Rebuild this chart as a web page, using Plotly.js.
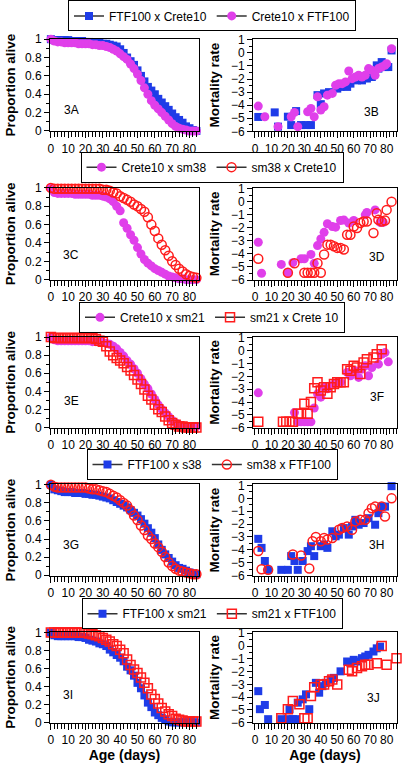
<!DOCTYPE html>
<html><head><meta charset="utf-8">
<script src="https://cdn.plot.ly/plotly-3.0.1.min.js"></script>
<style>html,body{margin:0;padding:0;background:#fff}#chart{width:404px;height:768px}</style>
</head><body><div id="chart"></div>
<script>
// ---------- DATA ----------
const survDays = [0,2,4,6,8,10,12,14,16,18,20,22,24,26,28,30,32,34,36,38,40,42,44,46,48,50,52,54,56,58,60,62,64,66,68,70,72,74,76,78,80,82,84];

// Proportion alive (3A,3C,3E,3G,3I)
const surv3A_FTF100xCrete10 = [1.00,0.99,0.99,0.99,0.99,0.99,0.98,0.98,0.98,0.98,0.97,0.97,0.96,0.96,0.96,0.95,0.95,0.94,0.93,0.92,0.89,0.85,0.80,0.76,0.72,0.66,0.60,0.54,0.48,0.44,0.40,0.35,0.31,0.27,0.23,0.19,0.15,0.12,0.09,0.05,0.03,0.01,0.00];
const surv3A_Crete10xFTF100 = [1.00,0.98,0.97,0.97,0.96,0.96,0.96,0.96,0.95,0.95,0.95,0.95,0.94,0.94,0.93,0.93,0.92,0.91,0.89,0.87,0.84,0.81,0.78,0.73,0.68,0.62,0.55,0.47,0.40,0.33,0.28,0.24,0.20,0.16,0.12,0.08,0.05,0.03,0.02,0.01,0.00,0.00,0.00];
const surv3C_Crete10xsm38 = [1.00,0.95,0.94,0.94,0.94,0.94,0.94,0.93,0.93,0.93,0.93,0.93,0.92,0.92,0.92,0.91,0.90,0.88,0.85,0.80,0.75,0.62,0.56,0.49,0.43,0.35,0.28,0.22,0.18,0.15,0.12,0.10,0.08,0.06,0.04,0.03,0.02,0.01,0.01,0.00,0.00,0.00,0.00];
const surv3C_sm38xCrete10 = [1.00,0.99,0.99,0.99,0.99,0.99,0.99,0.99,0.99,0.99,0.99,0.99,0.99,0.99,0.99,0.98,0.98,0.97,0.95,0.94,0.91,0.89,0.87,0.85,0.82,0.80,0.77,0.74,0.68,0.60,0.53,0.45,0.38,0.32,0.26,0.20,0.16,0.12,0.09,0.06,0.04,0.03,0.02];
const surv3E_Crete10xsm21 = [1.00,0.97,0.96,0.96,0.96,0.96,0.96,0.96,0.96,0.96,0.96,0.96,0.95,0.95,0.95,0.94,0.93,0.92,0.90,0.87,0.83,0.79,0.74,0.70,0.65,0.60,0.54,0.48,0.43,0.37,0.31,0.25,0.20,0.16,0.12,0.08,0.05,0.03,0.02,0.01,0.01,0.01,0.01];
const surv3E_sm21xCrete10 = [1.00,0.99,0.99,0.99,0.99,0.99,0.99,0.99,0.99,0.99,0.99,0.99,0.99,0.98,0.96,0.95,0.90,0.84,0.80,0.77,0.74,0.71,0.67,0.63,0.58,0.53,0.48,0.42,0.35,0.31,0.25,0.20,0.17,0.12,0.08,0.05,0.03,0.01,0.01,0.00,0.00,0.00,0.00];
const surv3G_FTF100xs38 = [1.00,0.95,0.94,0.93,0.92,0.92,0.92,0.91,0.91,0.91,0.90,0.90,0.89,0.89,0.88,0.87,0.86,0.85,0.83,0.81,0.79,0.77,0.75,0.72,0.69,0.66,0.62,0.57,0.52,0.47,0.41,0.34,0.28,0.23,0.19,0.15,0.11,0.08,0.07,0.05,0.03,0.02,0.01];
const surv3G_sm38xFTF100 = [1.00,0.98,0.97,0.97,0.97,0.97,0.97,0.97,0.97,0.97,0.97,0.96,0.95,0.95,0.94,0.93,0.92,0.90,0.88,0.86,0.83,0.80,0.77,0.72,0.66,0.61,0.55,0.50,0.44,0.40,0.35,0.31,0.26,0.20,0.14,0.10,0.07,0.05,0.04,0.03,0.02,0.01,0.01];
const surv3I_FTF100xsm21 = [1.00,0.97,0.96,0.96,0.96,0.96,0.96,0.96,0.95,0.95,0.94,0.92,0.91,0.90,0.88,0.87,0.85,0.81,0.78,0.75,0.72,0.68,0.62,0.58,0.52,0.44,0.38,0.30,0.22,0.17,0.11,0.08,0.05,0.03,0.01,0.00,0.00,0.00,0.00,0.00,0.00,0.00,0.00];
const surv3I_sm21xFTF100 = [1.00,1.00,1.00,1.00,1.00,1.00,1.00,1.00,1.00,1.00,1.00,0.99,0.98,0.97,0.96,0.94,0.92,0.90,0.87,0.85,0.81,0.77,0.70,0.64,0.59,0.55,0.50,0.44,0.38,0.31,0.26,0.21,0.16,0.12,0.09,0.07,0.04,0.03,0.02,0.01,0.01,0.01,0.01];

// Mortality rate (3B,3D,3F,3H,3J)
const mort3B_FTF100xCrete10_x = [2,12,14,20,22,25,28,31,34,38,40,42,45,50,52,56,58,62,65,68,71,74,75,77,79,81,83];
const mort3B_FTF100xCrete10_y = [-4.9,-4.55,-5.64,-4.88,-5.52,-4.45,-5.52,-5.52,-5.52,-3.23,-3.92,-3.1,-3.0,-2.73,-2.6,-2.6,-2.35,-2.1,-2.1,-1.96,-1.84,-0.95,-1.2,-0.7,-1.08,-1.08,0.19];
const mort3B_Crete10xFTF100_x = [2,6,14,22,24,26,32,34,36,38,40,42,44,47,49,51,53,55,57,59,61,63,65,67,69,71,73,75,77,79,80,83];
const mort3B_Crete10xFTF100_y = [-4.07,-4.88,-5.64,-4.88,-4.55,-5.64,-4.5,-4.25,-4.88,-3.36,-4.37,-4.12,-3.23,-3.1,-2.47,-2.35,-2.35,-2.22,-1.38,-1.97,-1.84,-1.71,-1.84,-1.71,-1.2,-1.33,-1.71,-1.2,-1.08,-0.95,-0.82,0.32];

const mort3D_Crete10xsm38_x = [2,4,16,20,23,28,30,34,36,38,40,42,44,47,49,52,54,57,60,67,68,73,76,78];
const mort3D_Crete10xsm38_y = [-3.11,-5.48,-4.8,-5.43,-4.67,-4.37,-4.37,-4.04,-4.72,-3.36,-2.86,-2.35,-1.69,-1.9,-1.95,-1.44,-1.4,-1.64,-1.44,-1.01,-0.83,-0.63,-1.59,-1.59];
const mort3D_sm38xCrete10_x = [2,20,24,30,32,34,36,38,40,42,44,46,48,50,52,54,56,58,60,62,64,66,68,72,74,75,77,79,80,83];
const mort3D_sm38xCrete10_y = [-4.37,-5.44,-4.72,-5.44,-5.44,-5.44,-5.44,-4.72,-5.44,-4.04,-3.29,-3.29,-3.41,-3.54,-3.54,-3.66,-2.53,-2.53,-1.9,-2.02,-1.64,-1.52,-1.52,-2.4,-0.89,-1.39,-1.52,-1.44,-0.63,0.0];

const mort3F_Crete10xsm21_x = [2,24,26,28,30,32,34,36,38,40,42,44,48,50,52,56,58,61,63,65,67,69,71,75,77,79,81];
const mort3F_Crete10xsm21_y = [-3.28,-4.82,-5.54,-5.54,-5.54,-5.54,-5.54,-4.46,-3.36,-3.62,-2.85,-2.97,-2.59,-2.46,-2.46,-1.69,-1.95,-1.56,-2.08,-1.44,-1.18,-1.95,-1.31,-1.05,-0.28,-0.15,-0.87];
const mort3F_sm21xCrete10_x = [2,17,19,21,23,26,28,30,32,34,36,38,40,42,44,46,48,50,52,54,56,58,60,62,64,66,68,72,74,77];
const mort3F_sm21xCrete10_y = [-5.54,-5.54,-5.54,-5.54,-5.54,-4.9,-4.9,-4.13,-4.9,-4.0,-2.92,-2.46,-3.1,-2.85,-3.36,-2.85,-2.59,-2.46,-2.46,-2.46,-1.44,-1.56,-1.18,-1.31,-1.82,-0.92,-0.67,-0.54,-0.28,0.1];

const mort3H_FTF100xs38_x = [2,4,6,8,16,20,22,24,26,29,32,34,36,40,42,44,47,49,51,54,57,59,61,63,66,69,73,75,77,79,83];
const mort3H_FTF100xs38_y = [-3.15,-3.85,-4.87,-5.56,-5.56,-5.56,-4.49,-4.87,-5.56,-4.87,-4.1,-3.72,-4.49,-3.72,-3.59,-3.85,-2.56,-2.95,-2.82,-2.31,-2.82,-2.18,-1.67,-2.05,-1.92,-1.54,-2.05,-1.15,-0.64,-0.64,0.95];
const mort3H_sm38xFTF100_x = [2,4,8,23,28,33,35,37,40,42,44,47,51,53,56,59,61,64,67,69,71,73,77,79,83];
const mort3H_sm38xFTF100_y = [-4.1,-5.51,-5.56,-4.36,-4.44,-5.46,-3.33,-3.0,-3.33,-3.08,-3.2,-3.08,-2.44,-2.31,-2.18,-2.44,-1.79,-1.67,-1.67,-1.15,-0.77,-0.64,-0.64,-1.41,0.0];

const mort3J_FTF100xsm21_x = [2,3,6,8,16,20,21,23,25,26,29,31,33,37,39,41,43,46,48,52,56,58,60,62,65,67,69,72,74,76];
const mort3J_FTF100xsm21_y = [-3.53,-4.94,-4.61,-5.72,-5.72,-5.72,-4.94,-5.72,-5.72,-4.43,-4.17,-3.78,-4.94,-2.88,-3.65,-3.14,-2.88,-2.62,-2.49,-1.98,-1.21,-1.34,-1.08,-1.21,-0.95,-0.82,-0.69,-0.43,-0.18,-0.05];
const mort3J_sm21xFTF100_x = [16,20,23,27,30,32,34,36,40,42,45,47,50,57,59,62,65,67,69,74,77,80,86];
const mort3J_sm21xFTF100_y = [-5.64,-4.94,-4.3,-4.56,-5.64,-5.64,-3.91,-3.22,-3.0,-3.0,-2.75,-2.62,-3.0,-1.85,-1.98,-1.72,-1.59,-1.46,-1.46,-1.34,0.0,-1.46,-0.95];

const legendNames = [
  ['FTF100 x Crete10','Crete10 x FTF100'],
  ['Crete10 x sm38','sm38 x Crete10'],
  ['Crete10 x sm21','sm21 x Crete 10'],
  ['FTF100 x s38','sm38 x FTF100'],
  ['FTF100 x sm21','sm21 x FTF100']
];
const panelLabels = [['3A','3B'],['3C','3D'],['3E','3F'],['3G','3H'],['3I','3J']];
const xTitle = 'Age (days)';
const yTitleLeft = 'Proportion alive';
const yTitleRight = 'Mortality rate';

// ---------- STYLE / LAYOUT ----------
const FONT = 'Liberation Sans, Arial, sans-serif';
const BLUE = '#1e3ce8', MAG = '#e03fea', RED = '#ff1c1c';
const ST = {
  blueSq: {symbol:'square', size:8, color:BLUE},
  magCi:  {symbol:'circle', size:9, color:MAG},
  redCi:  {symbol:'circle-open', size:9, color:RED, line:{width:1.5, color:RED}},
  redSq:  {symbol:'square-open', size:9, color:RED, line:{width:1.5, color:RED}}
};
const rows = [
  {surv:[surv3A_FTF100xCrete10, surv3A_Crete10xFTF100],
   mort:[[mort3B_FTF100xCrete10_x, mort3B_FTF100xCrete10_y],[mort3B_Crete10xFTF100_x, mort3B_Crete10xFTF100_y]],
   sty:['blueSq','magCi'], lab:[[11.7,0.23],[71,-4.5]]},
  {surv:[surv3C_Crete10xsm38, surv3C_sm38xCrete10],
   mort:[[mort3D_Crete10xsm38_x, mort3D_Crete10xsm38_y],[mort3D_sm38xCrete10_x, mort3D_sm38xCrete10_y]],
   sty:['magCi','redCi'], lab:[[11.7,0.265],[74,-4.2]]},
  {surv:[surv3E_Crete10xsm21, surv3E_sm21xCrete10],
   mort:[[mort3F_Crete10xsm21_x, mort3F_Crete10xsm21_y],[mort3F_sm21xCrete10_x, mort3F_sm21xCrete10_y]],
   sty:['magCi','redSq'], lab:[[11.7,0.29],[74,-3.6]]},
  {surv:[surv3G_FTF100xs38, surv3G_sm38xFTF100],
   mort:[[mort3H_FTF100xs38_x, mort3H_FTF100xs38_y],[mort3H_sm38xFTF100_x, mort3H_sm38xFTF100_y]],
   sty:['blueSq','redCi'], lab:[[11.7,0.33],[74,-3.6]]},
  {surv:[surv3I_FTF100xsm21, surv3I_sm21xFTF100],
   mort:[[mort3J_FTF100xsm21_x, mort3J_FTF100xsm21_y],[mort3J_sm21xFTF100_x, mort3J_sm21xFTF100_y]],
   sty:['blueSq','redSq'], lab:[[10,0.31],[72,-4.1]]}
];

const W = 404, H = 768;
const rowTop = [35, 184.5, 334.5, 483, 631.5];
const rowBot = [128, 277.5, 426, 574.5, 722.5];
const legendY = [12, 164, 315, 463, 613];
const leftX = [50/W, 199/W], rightX = [253/W, 397/W];

const layout = {
  width: W, height: H, margin: {l:0, r:0, t:0, b:0},
  paper_bgcolor: '#fff', plot_bgcolor: '#fff',
  font: {family: FONT, size: 12, color: '#000'},
  showlegend: true, annotations: []
};
const traces = [];

function axisBase() {
  return {showline:true, linecolor:'#000', linewidth:1, mirror:true, showgrid:false, zeroline:false,
          ticks:'outside', tickcolor:'#000', tickwidth:1, tickfont:{size:12, family:FONT, color:'#000'}, fixedrange:true};
}

rows.forEach((r, i) => {
  const nL = 2*i + 1, nR = 2*i + 2;
  const kx = n => 'xaxis' + (n === 1 ? '' : n);
  const ky = n => 'yaxis' + (n === 1 ? '' : n);
  const xr = n => 'x' + (n === 1 ? '' : n);
  const yr = n => 'y' + (n === 1 ? '' : n);
  const yDom = [1 - rowBot[i]/H, 1 - rowTop[i]/H];
  const last = i === rows.length - 1;
  const legKey = 'legend' + (i === 0 ? '' : (i + 1));

  layout[kx(nL)] = Object.assign(axisBase(), {domain:leftX, anchor:yr(nL), range:[-0.5, 85.5], tick0:0, dtick:10, ticklen:6,
     minor:{dtick:2, ticks:'outside', ticklen:5, tickcolor:'#000', showgrid:false},
     title: last ? {text:'<b>' + xTitle + '</b>', font:{size:14, family:FONT}, standoff:4} : {text:''}});
  layout[ky(nL)] = Object.assign(axisBase(), {domain:yDom, anchor:xr(nL), range:[-0.004, 1.004], tick0:0, dtick:0.2, ticklen:5,
     minor:{dtick:0.1, ticks:'outside', ticklen:3, tickcolor:'#000', showgrid:false},
     title:{text:'<b>' + yTitleLeft + '</b>', font:{size:13.5, family:FONT}, standoff:6}});
  layout[kx(nR)] = Object.assign(axisBase(), {domain:rightX, anchor:yr(nR), range:[-1.2, 86.3], tick0:0, dtick:10, ticklen:6,
     minor:{dtick:2, ticks:'outside', ticklen:5, tickcolor:'#000', showgrid:false},
     title: last ? {text:'<b>' + xTitle + '</b>', font:{size:14, family:FONT}, standoff:4} : {text:''}});
  layout[ky(nR)] = Object.assign(axisBase(), {domain:yDom, anchor:xr(nR), range:[-6, 1.08], tick0:0, dtick:1, ticklen:5,
     minor:{dtick:0.5, ticks:'outside', ticklen:3, tickcolor:'#000', showgrid:false},
     title:{text:'<b>' + yTitleRight + '</b>', font:{size:13.5, family:FONT}, standoff:8}});

  layout[legKey] = {orientation:'h', x:212/W, xanchor:'center', y:1 - legendY[i]/H, yanchor:'middle',
     bordercolor:'#000', borderwidth:1, bgcolor:'#fff', font:{size:12, family:FONT, color:'#000'},
     itemwidth:30, tracegroupgap:0, itemclick:false, itemdoubleclick:false};

  // legend entries (line + marker symbol, like the original legend)
  [0,1].forEach(j => {
    traces.push({type:'scatter', mode:'lines+markers', x:[null], y:[null], xaxis:xr(nL), yaxis:yr(nL),
      name:legendNames[i][j], legend:legKey, showlegend:true,
      line:{color:'#333', width:1.5}, marker:ST[r.sty[j]]});
  });
  // survival
  [0,1].forEach(j => {
    traces.push({type:'scatter', mode:'markers', x:survDays, y:r.surv[j], xaxis:xr(nL), yaxis:yr(nL),
      name:legendNames[i][j], showlegend:false, cliponaxis:false, marker:ST[r.sty[j]], hoverinfo:'x+y'});
  });
  // mortality
  [0,1].forEach(j => {
    traces.push({type:'scatter', mode:'markers', x:r.mort[j][0], y:r.mort[j][1], xaxis:xr(nR), yaxis:yr(nR),
      name:legendNames[i][j], showlegend:false, cliponaxis:false, marker:ST[r.sty[j]], hoverinfo:'x+y'});
  });

  layout.annotations.push({xref:xr(nL), yref:yr(nL), x:r.lab[0][0], y:r.lab[0][1], text:panelLabels[i][0], showarrow:false, font:{size:12, family:FONT, color:'#000'}});
  layout.annotations.push({xref:xr(nR), yref:yr(nR), x:r.lab[1][0], y:r.lab[1][1], text:panelLabels[i][1], showarrow:false, font:{size:12, family:FONT, color:'#000'}});
});

Plotly.newPlot('chart', traces, layout, {staticPlot:true, displayModeBar:false});
</script>
</body></html>
